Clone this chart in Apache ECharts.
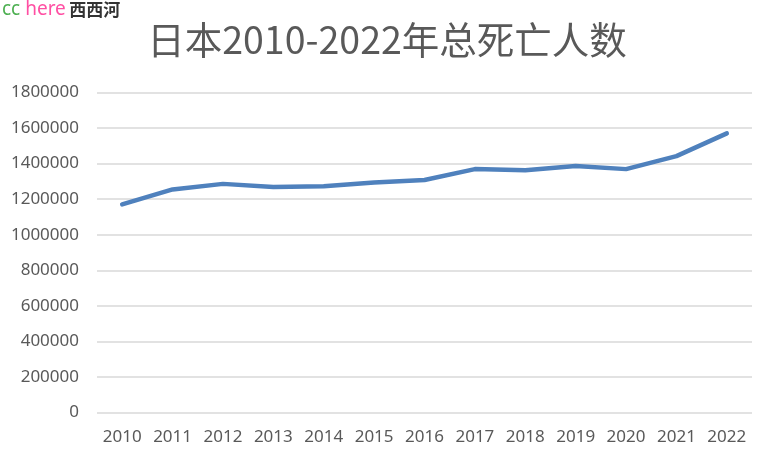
<!DOCTYPE html>
<html><head><meta charset="utf-8">
<script src="https://cdn.jsdelivr.net/npm/echarts@6/dist/echarts.min.js"></script>
<style>html,body{margin:0;padding:0;background:#fff}#c{width:772px;height:457px}</style>
</head><body><div id="c"></div>
<script>
const years = ['2010','2011','2012','2013','2014','2015','2016','2017','2018','2019','2020','2021','2022'];
const deaths = [1171000,1255000,1286000,1268000,1272000,1294000,1308000,1369000,1363000,1386000,1369000,1442000,1570000];
const yTicks = [0,200000,400000,600000,800000,1000000,1200000,1400000,1600000,1800000];
const titleText = '日本2010-2022年总死亡人数';

const chart = echarts.init(document.getElementById('c'), null, {renderer:'canvas'});
chart.setOption({
  animation:false,
  backgroundColor:'#fff',
  title:{
    text:titleText, left:382, top:16, textAlign:'center',
    textStyle:{fontFamily:'"Noto Sans CJK SC","Noto Sans",sans-serif',fontSize:37.5,fontWeight:'normal',color:'#595959'}
  },
  graphic:[{
    type:'text', left:2, top:0,
    style:{
      text:'{a|cc}{b| here} {c|西西河}',
      rich:{
        a:{fill:'#4caf50',fontSize:19,fontFamily:'"Noto Sans",sans-serif'},
        b:{fill:'#ff4fa3',fontSize:19,fontFamily:'"Noto Sans",sans-serif'},
        c:{fill:'#333',fontSize:17,fontWeight:'bold',fontFamily:'"Noto Sans CJK SC",sans-serif'}
      }
    }
  }],
  grid:{left:97,right:20,top:92.5,bottom:44.5,containLabel:false},
  xAxis:{
    type:'category', data:years, boundaryGap:true,
    axisLine:{show:false}, axisTick:{show:false},
    axisLabel:{color:'#595959',fontSize:17,fontFamily:'"Noto Sans",sans-serif',margin:16,interval:0}
  },
  yAxis:{
    type:'value', min:yTicks[0], max:yTicks[yTicks.length-1], interval:200000,
    axisLine:{show:false}, axisTick:{show:false},
    axisLabel:{color:'#595959',fontSize:17,fontFamily:'"Noto Sans",sans-serif',margin:18,formatter:v=>String(v)},
    splitLine:{lineStyle:{color:'#d9d9d9',width:1.5}}
  },
  series:[{
    type:'line', data:deaths, showSymbol:false, symbol:'none',
    lineStyle:{color:'#4f81bd',width:4.5,cap:'round',join:'round'}
  }]
});
</script></body></html>
